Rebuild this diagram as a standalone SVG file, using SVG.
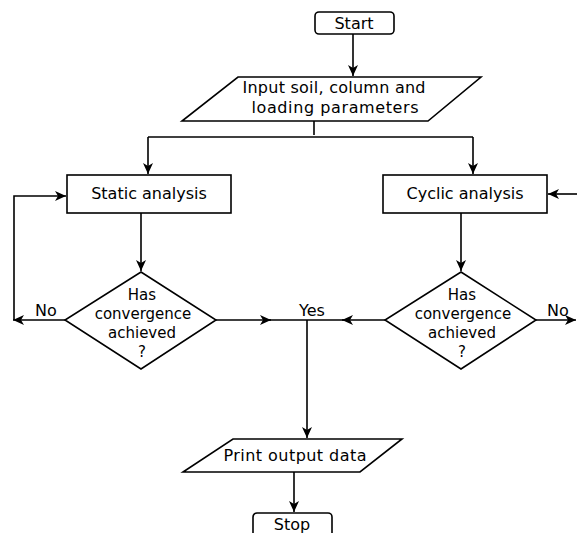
<svg xmlns="http://www.w3.org/2000/svg" width="577" height="533" viewBox="0 0 577 533">
<style>
.s{fill:#fff;stroke:#000;stroke-width:1.6}
.c{fill:none;stroke:#000;stroke-width:1.6}
.t{font-family:"DejaVu Sans",sans-serif;font-size:16px;fill:#000;text-anchor:middle}
.d{font-size:15px}
</style>
<defs>
<marker id="a" markerWidth="12" markerHeight="10" refX="11" refY="5" orient="auto" markerUnits="userSpaceOnUse">
<path d="M0,0 L11,5 L0,10 L3,5 Z" fill="#000"/>
</marker>
</defs>
<rect width="577" height="533" fill="#fff"/>
<g id="connectors">
<path class="c" d="M353,34 V76" marker-end="url(#a)"/>
<path class="c" d="M314,121 V135"/>
<path class="c" d="M148,137 H473"/>
<path class="c" d="M148,137 V174" marker-end="url(#a)"/>
<path class="c" d="M473,137 V174" marker-end="url(#a)"/>
<path class="c" d="M141,213 V271" marker-end="url(#a)"/>
<path class="c" d="M461,213 V271" marker-end="url(#a)"/>
<path class="c" d="M65,320 H13" marker-end="url(#a)"/>
<path class="c" d="M14,320 V196 H66" marker-end="url(#a)"/>
<path class="c" d="M536,320 H576" marker-end="url(#a)"/>
<path class="c" d="M577,194 H548" marker-end="url(#a)"/>
<path class="c" d="M216,320 H271" marker-end="url(#a)"/>
<path class="c" d="M268,320 H307"/>
<path class="c" d="M385,320 H342" marker-end="url(#a)"/>
<path class="c" d="M345,320 H307"/>
<path class="c" d="M307,320 V438" marker-end="url(#a)"/>
<path class="c" d="M294,472 V512" marker-end="url(#a)"/>
</g>
<g id="start">
<rect class="s" x="315" y="12" width="79" height="22" rx="4"/>
<text class="t" x="354" y="29">Start</text>
</g>
<g id="input">
<polygon class="s" points="238,77 481,77 428,121 182,121"/>
<text class="t" x="334" y="93" textLength="183" lengthAdjust="spacing">Input soil, column and</text>
<text class="t" x="335" y="113" textLength="167" lengthAdjust="spacing">loading parameters</text>
</g>
<g id="static">
<rect class="s" x="67" y="175" width="164" height="38"/>
<text class="t" x="149" y="199">Static analysis</text>
</g>
<g id="cyclic">
<rect class="s" x="383" y="175" width="164" height="38"/>
<text class="t" x="465" y="199">Cyclic analysis</text>
</g>
<g id="decision-left">
<polygon class="s" points="141,272 216,320 141,369 65,320"/>
<text class="t d" x="142" y="300">Has</text>
<text class="t d" x="143" y="319">convergence</text>
<text class="t d" x="142" y="338">achieved</text>
<text class="t d" x="142" y="357">?</text>
</g>
<g id="decision-right">
<polygon class="s" points="461,272 536,320 461,369 385,320"/>
<text class="t d" x="462" y="300">Has</text>
<text class="t d" x="463" y="319">convergence</text>
<text class="t d" x="462" y="338">achieved</text>
<text class="t d" x="462" y="357">?</text>
</g>
<g id="labels">
<text class="t" x="46" y="316">No</text>
<text class="t" x="558" y="316">No</text>
<text class="t" x="312" y="316">Yes</text>
</g>
<g id="print">
<polygon class="s" points="233,439 402,439 360,472 183,472"/>
<text class="t" x="295" y="461" textLength="143" lengthAdjust="spacing">Print output data</text>
</g>
<g id="stop">
<rect class="s" x="253" y="513" width="79" height="26" rx="4"/>
<text class="t" x="292" y="530">Stop</text>
</g>
</svg>
